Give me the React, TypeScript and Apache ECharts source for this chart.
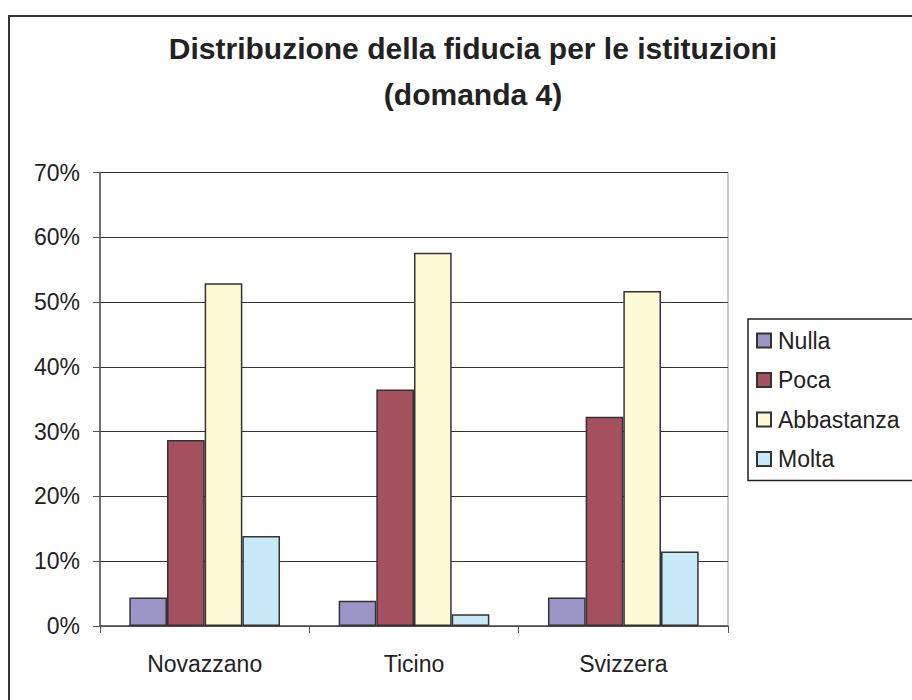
import React, { useEffect, useRef } from "react";
import * as echarts from "echarts";

const categories = ["Novazzano", "Ticino", "Svizzera"];
const seriesNames = ["Nulla", "Poca", "Abbastanza", "Molta"];
const nulla = [4.4, 3.9, 4.4];
const poca = [28.7, 36.5, 32.3];
const abbastanza = [52.9, 57.6, 51.7];
const molta = [13.9, 1.8, 11.5];
const seriesValues = [nulla, poca, abbastanza, molta];
const seriesColors = ["#9c95c8", "#a5505f", "#fffad6", "#c8e9f8"];
const yTicks = { min: 0, max: 70, interval: 10 };

export default function App() {
  const ref = useRef<HTMLDivElement>(null);
  useEffect(() => {
    document.body.style.margin = "0";
    const chart = echarts.init(ref.current!, null, { renderer: "svg" });
    const font = "'Liberation Sans', Arial, sans-serif";
    chart.setOption({
      animation: false,
      backgroundColor: "#ffffff",
      textStyle: { fontFamily: font },
      title: {
        text: "Distribuzione della fiducia per le istituzioni\n(domanda 4)",
        left: 468,
        textAlign: "center",
        top: 20,
        textStyle: {
          fontFamily: font,
          fontSize: 30,
          fontWeight: "bold",
          color: "#222",
          lineHeight: 46,
        },
      },
      graphic: [
        {
          type: "rect",
          shape: { x: 9, y: 16, width: 1000, height: 1000 },
          style: { fill: "none", stroke: "#333", lineWidth: 2 },
          silent: true,
        },
      ],
      legend: {
        orient: "vertical",
        left: 748,
        top: 319,
        data: seriesNames,
        icon: "rect",
        itemWidth: 14,
        itemHeight: 14,
        itemGap: 16.5,
        padding: [10, 40, 10, 8],
        borderColor: "#222",
        borderWidth: 1.5,
        textStyle: { fontFamily: font, fontSize: 23, color: "#222", lineHeight: 20, padding: [0, 0, 0, 2] },
      },
      grid: {
        left: 100,
        right: 184,
        top: 172.5,
        bottom: 74,
        show: true,
        borderColor: "#999",
        borderWidth: 1,
      },
      xAxis: {
        type: "category",
        data: categories,
        axisLine: { lineStyle: { color: "#555", width: 1.5 } },
        axisTick: { show: true, length: 7, lineStyle: { color: "#555" } },
        axisLabel: { fontFamily: font, fontSize: 23, color: "#222", margin: 26 },
      },
      yAxis: {
        type: "value",
        min: yTicks.min,
        max: yTicks.max,
        interval: yTicks.interval,
        axisLine: { show: true, lineStyle: { color: "#555", width: 1.5 } },
        axisTick: { show: true, length: 7, lineStyle: { color: "#555" } },
        axisLabel: {
          fontFamily: font,
          fontSize: 23,
          color: "#222",
          margin: 20,
          formatter: "{value}%",
        },
        splitLine: { lineStyle: { color: "#333", width: 1 } },
      },
      series: seriesNames.map((name, i) => ({
        name,
        type: "bar",
        data: seriesValues[i],
        barGap: "0%",
        barCategoryGap: "28%",
        itemStyle: {
          color: seriesColors[i],
          borderColor: "#333",
          borderWidth: 1.5,
        },
      })),
    });
    return () => chart.dispose();
  }, []);
  return (
    <div
      ref={ref}
      style={{ position: "absolute", left: 0, top: 0, width: 912, height: 700 }}
    />
  );
}
